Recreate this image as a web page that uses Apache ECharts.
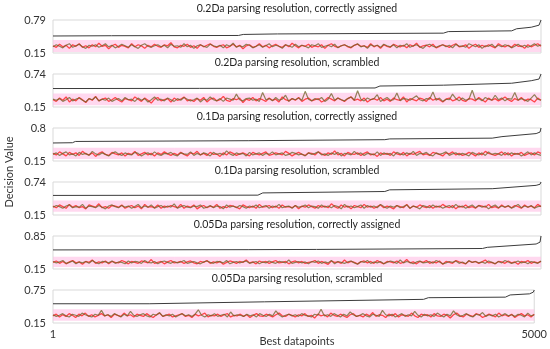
<!DOCTYPE html>
<html><head><meta charset="utf-8">
<script src="https://cdn.jsdelivr.net/npm/echarts@6/dist/echarts.min.js"></script>
<style>html,body{margin:0;padding:0;background:#fff}#c{width:550px;height:349px}</style>
</head><body><div id="c"></div>
<script>
const panelTitles = [
  '0.2Da parsing resolution, correctly assigned',
  '0.2Da parsing resolution, scrambled',
  '0.1Da parsing resolution, correctly assigned',
  '0.1Da parsing resolution, scrambled',
  '0.05Da parsing resolution, correctly assigned',
  '0.05Da parsing resolution, scrambled'
];
const yMin = 0.15;
const yMax = [0.79, 0.74, 0.8, 0.74, 0.85, 0.75];
const xTickLabels = [1, 5000];
const xTitle = 'Best datapoints';
const yTitle = 'Decision Value';

// black sorted decision value curves [datapoint, value]
const black1 = [[1,0.48],[600,0.485],[1900,0.49],[1950,0.51],[2300,0.52],[4000,0.535],[4050,0.565],[4700,0.58],[4750,0.62],[4900,0.65],[4980,0.69],[5000,0.79]];
const black2 = [[1,0.48],[1500,0.483],[3300,0.49],[3350,0.525],[4000,0.54],[4700,0.575],[4900,0.62],[4980,0.65],[5000,0.74]];
const black3 = [[1,0.505],[200,0.51],[230,0.535],[2000,0.55],[3400,0.57],[3450,0.585],[4500,0.6],[4600,0.63],[4950,0.69],[4990,0.72],[5000,0.8]];
const black4 = [[1,0.50],[2100,0.505],[2150,0.545],[3400,0.57],[3450,0.60],[4500,0.62],[4950,0.68],[4990,0.70],[5000,0.74]];
const black5 = [[1,0.555],[2000,0.56],[2700,0.565],[4400,0.585],[4450,0.61],[4950,0.68],[4990,0.72],[5000,0.85]];
const black6 = [[1,0.50],[1000,0.50],[1020,0.52],[2200,0.535],[3850,0.58],[3900,0.61],[4700,0.62],[4750,0.66],[4950,0.68],[4990,0.71],[5000,0.75]];

// noisy lower clouds, values in hundredths, evenly spread over datapoints 1..5000
const red1 = [29,26,32,27,30,24,31,28,33,26,29,25,31,27,34,28,30,23,29,32,26,30,28,25,33,27,31,29,24,30,27,32,28,26,31,29,35,27,25,30,28,32,26,29,24,31,27,30,33,28,26,29,31,25,28,32,27,30,23,29,31,26,28,33,27,30,25,29,32,28,26,31,27,34,29,25,30,28,32,26,29,27,31,24,30,33,28,26,29,31,27,25,30,32,28,29,26,33,27,30,24,31,28,26,32,29,27,30,25,31,28,34,26,29,30,27,32,25,28,31,29,26,30,33,27,28,31,24,29,32,26,30,27,31,28,25,33,29,27,30,26,32,28,29,24,31,27,30,33,28];
const olive1 = [27,31,28,25,30,33,26,29,32,27,24,30,28,31,26,29,33,27,30,25,28,32,29,26,31,27,24,30,33,28,26,29,31,27,30,25,32,28,29,26,33,27,30,24,29,31,28,26,32,29,27,30,25,31,28,34,26,29,27,32,30,25,28,31,26,29,33,27,30,28,24,31,29,26,32,27,30,28,25,31,29,33,26,28,30,27,32,25,29,31,28,26,30,33,27,29,24,31,28,30,26,32,29,27,31,25,30,28,33,26,29,31,27,24,30,32,28,26,29,31,27,30,25,32,28,29,26,33,30,27,31,24,29,28,32,26,30,27,31,29,25,28,32,27,30,26,29,33,28,31];
const red2 = [28,25,31,27,33,24,29,26,32,28,23,30,27,34,26,29,31,25,28,32,27,24,30,28,26,33,29,25,31,27,22,29,32,26,28,30,24,31,27,29,33,26,28,25,30,27,32,24,29,31,26,28,34,27,25,30,28,31,23,29,27,32,26,30,28,25,31,27,29,24,33,28,26,30,27,32,25,29,31,26,28,30,24,27,32,29,26,31,28,25,30,33,27,29,26,31,24,28,30,27,32,26,29,25,31,28,27,33,24,30,28,26,31,29,25,32,27,30,28,24,29,31,26,28,33,27,25,30,29,26,32,28,24,31,27,30,26,29,33,28,25,30,27,32,26,29,28,24,31,27];
const olive2 = [29,27,30,25,28,32,26,29,31,27,24,30,28,33,26,29,27,31,25,28,30,26,32,28,29,25,31,27,30,24,28,33,27,29,26,31,28,25,30,27,32,29,26,28,31,24,29,27,33,28,26,30,25,31,29,27,38,28,26,30,31,27,29,25,41,28,30,26,32,27,29,36,25,30,28,31,27,43,29,26,30,28,32,25,29,39,27,31,28,26,30,33,27,44,29,26,31,28,30,37,25,29,32,27,28,40,26,30,29,27,31,35,28,26,30,29,42,27,31,25,29,28,38,30,26,31,27,29,45,28,30,26,32,29,27,36,28,31,26,30,29,41,27,30,28,25,31,37,29,27];
const red3 = [30,27,33,29,25,32,28,31,26,34,29,27,31,24,30,33,28,26,32,29,27,31,25,30,28,34,26,29,32,27,30,25,31,28,33,29,26,30,27,32,28,25,31,29,34,27,30,26,32,28,29,24,31,27,33,30,26,29,31,28,25,32,29,27,30,33,26,28,31,29,27,34,30,25,29,32,28,26,31,30,27,33,29,26,31,28,35,27,30,25,32,29,28,31,26,30,33,27,29,24,31,28,30,26,33,29,27,32,25,30,28,31,34,27,29,26,32,30,28,25,31,29,33,27,30,26,28,32,29,25,31,27,34,30,28,26,29,33,27,31,25,30,28,32,26,29,31,27,33,30];
const olive3 = [28,31,26,30,33,27,29,25,32,28,30,26,34,29,27,31,28,25,30,33,29,26,31,28,27,32,30,25,29,31,27,33,28,26,30,29,32,27,25,31,29,28,33,26,30,27,31,29,25,32,28,30,27,35,29,26,31,28,30,25,32,27,29,31,26,30,28,33,27,29,31,26,28,32,30,27,29,25,31,28,30,33,27,29,26,31,28,32,25,30,29,27,34,28,31,26,30,29,27,33,26,31,28,30,25,32,29,27,31,28,34,26,30,29,32,27,25,31,28,30,33,26,29,31,27,30,28,25,32,29,27,31,26,33,28,30,29,26,32,27,31,28,30,25,29,33,27,31,28,26];
const red4 = [31,28,33,30,27,34,29,32,28,30,26,33,31,29,35,28,30,27,32,31,29,33,27,30,32,28,31,26,34,29,30,28,33,27,31,29,32,30,28,34,27,31,29,33,26,30,32,28,31,29,34,27,30,28,32,31,29,26,33,30,28,31,27,34,29,30,32,28,31,27,33,29,30,28,32,26,31,29,33,30,27,32,29,31,28,35,30,27,33,29,31,26,32,30,28,34,29,31,27,30,33,28,31,29,26,32,30,28,34,27,31,29,33,30,28,32,27,31,29,34,30,28,32,26,31,29,33,28,30,27,32,31,29,34,28,30,27,33,29,31,28,32,30,27,33,29,31,28,34,30];
const olive4 = [29,32,30,27,31,33,28,30,29,34,27,31,30,28,32,29,26,31,33,30,28,32,29,31,27,30,34,28,31,29,33,27,30,32,28,31,29,35,27,30,32,29,28,31,30,33,27,29,32,28,31,30,26,33,29,31,28,32,30,27,31,29,33,28,30,32,27,31,29,34,28,30,31,27,32,29,30,33,28,31,30,27,33,29,31,28,32,30,26,34,29,31,28,30,33,27,32,29,31,28,34,30,27,31,29,32,28,30,33,27,31,29,26,32,30,28,33,29,31,27,30,32,28,34,29,31,27,30,33,28,32,29,31,26,30,33,28,31,29,32,27,30,34,28,31,29,32,27,30,31];
const red5 = [29,32,27,31,26,30,33,28,30,25,31,29,34,27,30,28,32,26,31,29,28,33,30,26,31,29,27,32,30,28,35,27,29,31,26,30,33,28,29,31,27,30,32,28,26,31,29,33,27,30,28,31,25,29,32,30,27,31,29,34,28,30,26,32,29,31,27,30,33,28,29,31,26,30,32,28,31,27,29,30,33,27,31,28,25,32,29,30,27,34,28,31,29,26,30,32,28,31,27,33,29,26,31,30,28,32,27,29,35,28,30,26,31,29,33,27,30,28,32,25,31,29,27,33,30,28,26,32,29,31,27,30,34,28,29,26,31,30,27,32,28,30,25,31,29,33,27,30,28,31];
const olive5 = [31,28,30,33,27,29,32,26,30,28,31,27,33,29,26,31,30,28,32,27,30,29,26,32,28,31,30,27,33,29,28,31,26,30,32,29,27,31,28,30,33,27,29,31,28,26,30,32,29,27,31,30,28,33,26,29,31,28,30,32,27,29,31,26,30,28,32,29,27,31,30,28,34,27,29,31,28,30,26,31,29,32,27,30,28,33,26,31,29,27,30,32,28,25,31,29,33,27,30,28,31,26,29,32,30,27,34,28,31,29,26,30,32,28,29,31,27,33,30,26,28,31,29,32,27,30,26,33,29,31,28,30,27,32,29,26,31,28,33,30,27,29,32,28,30,26,31,29,27,32];
const red6 = [28,31,26,30,27,32,29,25,31,28,33,27,30,26,29,32,28,30,25,31,29,27,33,28,30,26,31,29,27,32,28,25,30,33,27,29,31,26,28,30,32,27,29,25,31,28,30,33,26,29,28,31,27,30,32,26,29,28,31,27,30,25,29,32,28,27,31,29,26,30,33,28,27,31,29,26,30,28,32,27,29,24,31,28,30,26,33,29,27,31,28,25,30,32,27,29,26,31,28,34,27,30,29,25,31,28,32,26,30,29,27,33,28,25,31,29,30,26,32,28,27,31,29,24,30,33,28,26,31,29,27,32,30,25,28,31,29,26,33,28,30,27,31,25,29,32,28,30,26,31];
const olive6 = [30,27,29,32,28,26,31,29,27,33,30,28,26,31,29,38,28,30,27,32,29,26,31,28,36,29,27,30,32,28,26,31,29,34,27,30,28,31,26,29,32,28,30,27,31,39,29,26,30,28,32,27,29,31,26,35,28,30,29,27,31,28,30,26,32,29,27,31,28,37,30,26,29,31,28,30,27,32,29,28,26,31,29,40,28,30,27,32,29,26,31,28,35,30,27,29,32,28,26,31,29,27,38,30,28,31,26,29,32,27,30,28,36,29,26,31,28,30,27,33,29,26,31,28,37,30,27,29,32,28,26,31,29,34,27,30,28,31,26,29,32,28,30,27,31,29,26,33,28,30];

// pale magenta halo: lower / upper edge at datapoints 1,1250,2500,3750,5000
const haloX = [1, 1250, 2500, 3750, 5000];
const haloLo = [[0.17,0.17,0.17,0.17,0.17],[0.18,0.18,0.18,0.18,0.18],[0.19,0.19,0.19,0.19,0.19],[0.21,0.21,0.21,0.21,0.21],[0.19,0.19,0.19,0.19,0.19],[0.19,0.19,0.19,0.19,0.19]];
const haloHi = [[0.40,0.40,0.40,0.40,0.40],[0.39,0.39,0.40,0.41,0.41],[0.41,0.41,0.41,0.41,0.41],[0.41,0.41,0.41,0.41,0.41],[0.41,0.41,0.41,0.41,0.41],[0.40,0.40,0.40,0.40,0.40]];

const blacks = [black1,black2,black3,black4,black5,black6];
const reds = [red1,red2,red3,red4,red5,red6];
const olives = [olive1,olive2,olive3,olive4,olive5,olive6];

const FONT = 'Lato';
const tops = [20, 74, 128, 182, 236, 290];
const H = 33, L = 53, R = 9;

const grids = [], xAxes = [], yAxes = [], series = [], graphics = [];
function spread(arr){ const n = arr.length; return arr.map((v,i)=>[1 + i*(5000-1)/(n-1), v/100]); }

for (let i = 0; i < 6; i++) {
  grids.push({left: L, right: R, top: tops[i], height: H, show: true, borderColor: '#d9d9d9', borderWidth: 1, backgroundColor: 'transparent'});
  const last = i === 5;
  xAxes.push({type:'value', gridIndex:i, min:1, max:5000, axisLine:{show:false}, axisTick:{show:false}, splitLine:{show:false},
    axisLabel:{show:last, customValues: xTickLabels, fontSize:11, fontFamily:FONT, color:'#333', margin:6, formatter: v => String(v)}});
  yAxes.push({type:'value', gridIndex:i, min:yMin, max:yMax[i], axisLine:{show:false}, axisTick:{show:false}, splitLine:{show:false},
    axisLabel:{customValues:[yMin, yMax[i]], fontSize:11, fontFamily:FONT, color:'#333', margin:7, formatter: v => String(v)}});
  const lo = haloLo[i], hi = haloHi[i];
  series.push({type:'custom', xAxisIndex:i, yAxisIndex:i, silent:true, clip:true,
    data: haloX.map((x,k)=>[x, lo[k], hi[k]]),
    renderItem: function(params, api){
      const k = params.dataIndex;
      if (k >= haloX.length - 1) return null;
      const pts = [api.coord([haloX[k], lo[k]]), api.coord([haloX[k+1], lo[k+1]]), api.coord([haloX[k+1], hi[k+1]]), api.coord([haloX[k], hi[k]])];
      return {type:'polygon', shape:{points: pts}, style:{fill:'rgba(255,190,228,0.6)'}};
    }});
  series.push({type:'line', xAxisIndex:i, yAxisIndex:i, symbol:'none', silent:true,
    lineStyle:{color:'#ff2020', width:1.3, opacity:0.8}, data: spread(reds[i])});
  series.push({type:'line', xAxisIndex:i, yAxisIndex:i, symbol:'none', silent:true,
    lineStyle:{color:'#6f6326', width:1.2, opacity:0.75}, data: spread(olives[i])});
  series.push({type:'line', xAxisIndex:i, yAxisIndex:i, symbol:'none', silent:true,
    lineStyle:{color:'#3c3c3c', width:1}, data: blacks[i]});
  graphics.push({type:'text', x: L + (550-L-R)/2, y: tops[i]-11, style:{text: panelTitles[i], fill:'#1f1f1f', font:'10.5px ' + FONT, textAlign:'center', textVerticalAlign:'middle'}});
}
graphics.push({type:'text', x: L + (550-L-R)/2, y: 341, style:{text: xTitle, fill:'#333', font:'11px ' + FONT, textAlign:'center', textVerticalAlign:'middle'}});
graphics.push({type:'text', x: 9, y: 172, rotation: Math.PI/2, style:{text: yTitle, fill:'#333', font:'11px ' + FONT, textAlign:'center', textVerticalAlign:'middle'}});

const chart = echarts.init(document.getElementById('c'), null, {renderer:'canvas'});
chart.setOption({animation:false, grid:grids, xAxis:xAxes, yAxis:yAxes, series:series, graphic:graphics});
</script></body></html>
